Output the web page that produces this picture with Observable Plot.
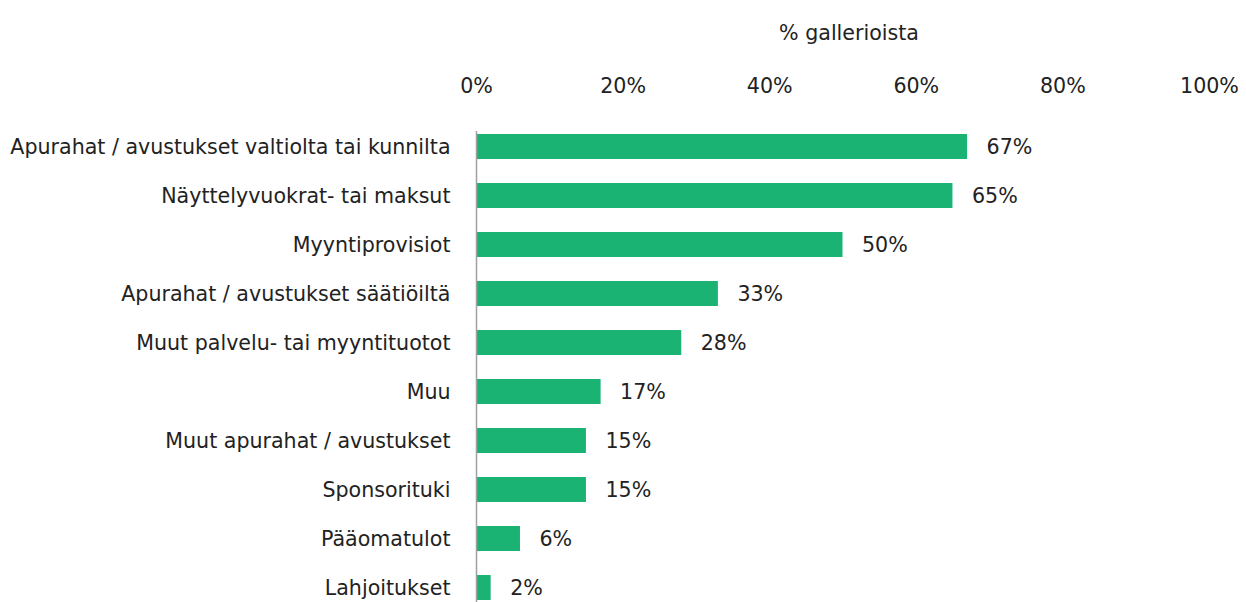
<!DOCTYPE html>
<html>
<head>
<meta charset="utf-8">
<script src="https://cdn.jsdelivr.net/npm/d3@7"></script>
<script src="https://cdn.jsdelivr.net/npm/@observablehq/plot@0.6"></script>
<style>
  html, body { margin: 0; padding: 0; background: #fff; }
  #chart svg { display: block; }
</style>
</head>
<body>
<div id="chart"></div>
<script>
const categories = [
  "Apurahat / avustukset valtiolta tai kunnilta",
  "Näyttelyvuokrat- tai maksut",
  "Myyntiprovisiot",
  "Apurahat / avustukset säätiöiltä",
  "Muut palvelu- tai myyntituotot",
  "Muu",
  "Muut apurahat / avustukset",
  "Sponsorituki",
  "Pääomatulot",
  "Lahjoitukset"
];
const values = [67, 65, 50, 33, 28, 17, 15, 15, 6, 2];
const xTicks = [0, 20, 40, 60, 80, 100];
const axisTitle = "% gallerioista";

const data = categories.map((c, i) => ({category: c, value: values[i]}));
const font = "'DejaVu Sans', sans-serif";
const fs = 20.6;

const chart = Plot.plot({
  width: 1246,
  height: 602,
  marginTop: 131,
  marginBottom: 0,
  marginLeft: 476,
  marginRight: 37,
  style: {fontFamily: font, fontSize: fs + "px", color: "#222", background: "#fff"},
  x: {domain: [0, 100]},
  y: {domain: categories, paddingInner: 0.49, paddingOuter: 0.04},
  marks: [
    Plot.barX(data, {x: "value", y: "category", fill: "#1bb373"}),
    Plot.ruleX([0], {stroke: "#a0a0a0", strokeWidth: 1.5}),
    Plot.text(data, {x: "value", y: "category", text: d => d.value + "%", textAnchor: "start", dx: 19, fill: "#222", fontSize: fs}),
    Plot.axisX(xTicks, {anchor: "top", tickSize: 0, tickPadding: 39, tickFormat: d => d + "%", label: null, fontSize: fs, fill: "#222"}),
    Plot.axisY({tickSize: 0, tickPadding: 26, label: null, fontSize: fs, fill: "#222"}),
    Plot.text([axisTitle], {frameAnchor: "top", dy: -106, dx: 6, fontSize: fs, fill: "#222"})
  ]
});
document.getElementById("chart").appendChild(chart);
</script>
</body>
</html>
